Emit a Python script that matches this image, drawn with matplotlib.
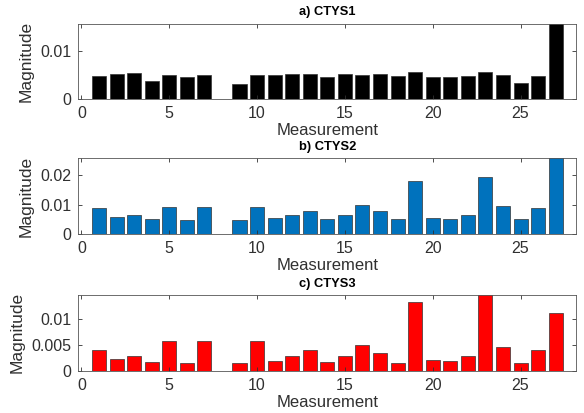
import matplotlib
matplotlib.use("Agg")
import matplotlib.pyplot as plt
import numpy as np

measurements = list(range(1, 28))

ctys1 = [0.0049, 0.0052, 0.0055, 0.0038, 0.0051, 0.0045, 0.0051, 0.0, 0.0031,
         0.0051, 0.0051, 0.0053, 0.0053, 0.0047, 0.0053, 0.0051, 0.0053, 0.0049,
         0.0056, 0.0047, 0.0047, 0.0049, 0.0056, 0.0051, 0.0034, 0.0049, 0.0200]
ctys2 = [0.0088, 0.0059, 0.0066, 0.0052, 0.0094, 0.0047, 0.0094, 0.0, 0.0047,
         0.0094, 0.0055, 0.0066, 0.0080, 0.0052, 0.0066, 0.0098, 0.0078, 0.0052,
         0.0182, 0.0055, 0.0052, 0.0066, 0.0193, 0.0095, 0.0052, 0.0090, 0.0300]
ctys3 = [0.0040, 0.0023, 0.0029, 0.0016, 0.0058, 0.0015, 0.0058, 0.0, 0.0015,
         0.0057, 0.0018, 0.0029, 0.0040, 0.0016, 0.0028, 0.0050, 0.0034, 0.0015,
         0.0133, 0.0020, 0.0018, 0.0028, 0.0150, 0.0047, 0.0015, 0.0040, 0.0113]

titles = ["a) CTYS1", "b) CTYS2", "c) CTYS3"]
series = [ctys1, ctys2, ctys3]
colors = ["#000000", "#0072BD", "#FF0000"]
ylims = [0.0156, 0.0258, 0.0147]
yticks = [[0, 0.01], [0, 0.01, 0.02], [0, 0.005, 0.01]]
ytlabels = [["0", "0.01"], ["0", "0.01", "0.02"], ["0", "0.005", "0.01"]]
xticks = [0, 5, 10, 15, 20, 25]

plt.rcParams['font.family'] = ['Liberation Sans', 'DejaVu Sans']

fig = plt.figure(figsize=(5.84, 4.13), dpi=100)
positions = [
    [0.134, 0.7596, 0.853, 0.183],
    [0.134, 0.4327, 0.853, 0.184],
    [0.134, 0.1024, 0.853, 0.183],
]
txt = "#303030"
for pos, vals, col, yl, yt, ytl, title in zip(positions, series, colors, ylims, yticks, ytlabels, titles):
    ax = fig.add_axes(pos)
    ax.bar(measurements, vals, width=0.8, color=col, edgecolor="#333333", linewidth=0.5)
    ax.set_xlim(-0.18, 28.18)
    ax.set_ylim(0, yl)
    ax.set_xticks(xticks)
    ax.set_yticks(yt)
    ax.set_yticklabels(ytl)
    ax.tick_params(direction="in", length=3, width=0.6, colors=txt, labelsize=11.5,
                   top=True, right=True)
    ax.tick_params(axis="x", pad=5)
    ax.tick_params(axis="y", pad=5)
    for s in ax.spines.values():
        s.set_color("#555555")
        s.set_linewidth(0.6)
    ax.set_xlabel("Measurement", fontsize=12, color=txt, labelpad=1.5)
    ax.set_ylabel("Magnitude", fontsize=12.5, color=txt, labelpad=5)
    ax.set_title(title, fontsize=9.3, fontweight="bold", color="black", pad=6)

fig.savefig("out.png", dpi=100)
